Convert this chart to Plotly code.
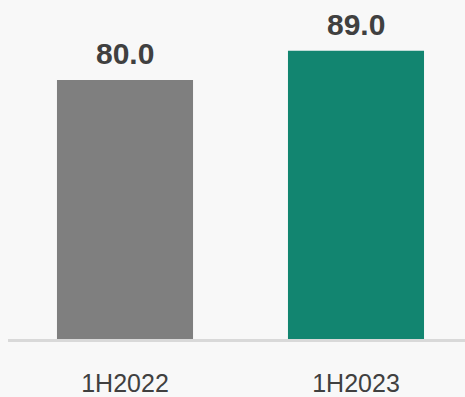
import plotly.graph_objects as go

categories = ["1H2022", "1H2023"]
values = [80.0, 89.0]
bar_colors = ["#7f7f7f", "#128570"]
labels = [f"{v:.1f}" for v in values]

fig = go.Figure()
fig.add_trace(go.Bar(
    x=categories, y=values, marker=dict(color=bar_colors, line=dict(width=0)),
    width=0.589, hoverinfo="skip",
))
for c, v, t in zip(categories, values, labels):
    fig.add_annotation(x=c, y=v, text=f"<b>{t}</b>", showarrow=False,
                       yanchor="bottom", yshift=8,
                       font=dict(family="Liberation Sans, Arial", size=30, color="#404040"))

fig.update_layout(
    width=465, height=397,
    margin=dict(l=8, r=0, t=0, b=52),
    paper_bgcolor="#f8f8f8", plot_bgcolor="#f8f8f8",
    showlegend=False,
    bargap=0.41,
    xaxis=dict(range=[-0.5065, 1.4719], showline=True, linecolor="#d9d9d9", linewidth=3,
               showgrid=False, zeroline=False, ticks="", ticklabelstandoff=20,
               tickfont=dict(family="Liberation Sans, Arial", size=25, color="#404040")),
    yaxis=dict(range=[0, 104.7], visible=False, showgrid=False, zeroline=False),
)
fig.write_html("out.html")
